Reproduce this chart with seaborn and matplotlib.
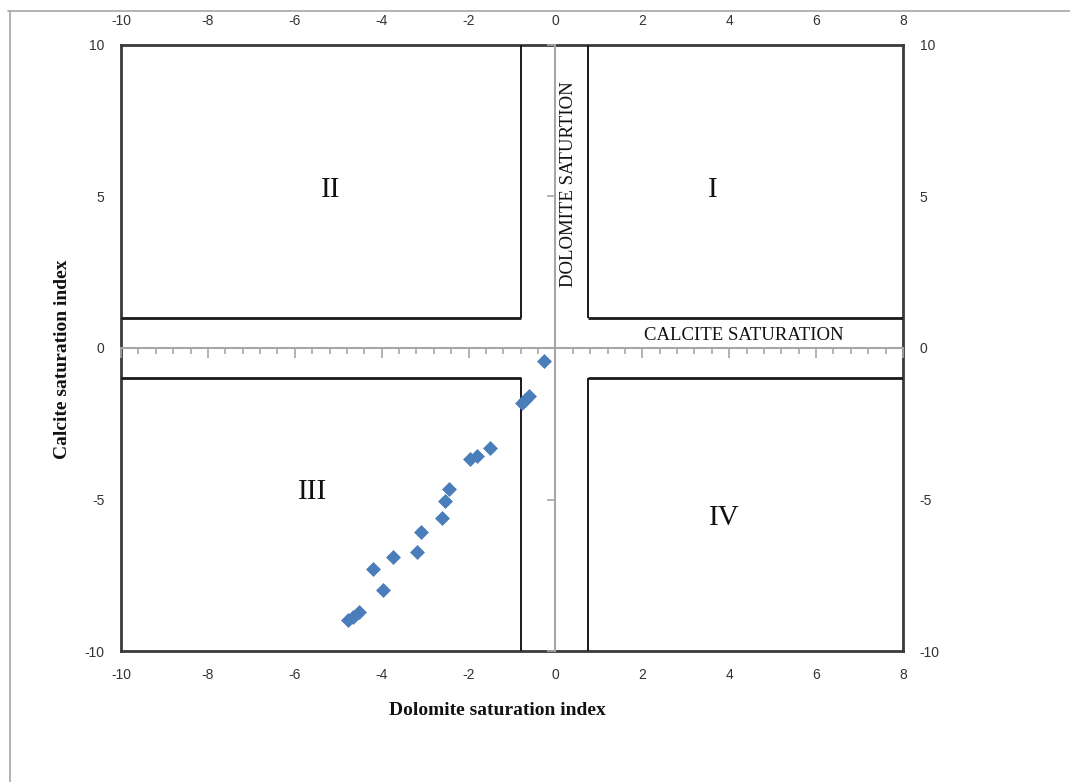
import matplotlib
matplotlib.use("Agg")
import matplotlib.pyplot as plt
from matplotlib.lines import Line2D
from matplotlib.ticker import MultipleLocator
import numpy as np
import pandas as pd
import seaborn as sns

# Saturation indices of the water samples
dolomite_si = [-0.26, -0.78, -0.70, -0.62, -1.51, -1.97, -1.81, -2.45, -2.54, -2.61,
               -3.09, -3.19, -3.74, -4.20, -3.97, -4.77, -4.66, -4.52]
calcite_si = [-0.43, -1.82, -1.70, -1.58, -3.30, -3.66, -3.56, -4.65, -5.05, -5.61,
              -6.07, -6.73, -6.90, -7.29, -7.99, -8.98, -8.88, -8.71]

# Saturation band limits
dolomite_band = [-0.8, 0.75]
calcite_band = [-1.0, 1.0]

x_ticks = [-10, -8, -6, -4, -2, 0, 2, 4, 6, 8]
y_ticks = [-10, -5, 0, 5, 10]

quadrant_names = ["I", "II", "III", "IV"]
quadrant_x = [3.63, -5.17, -5.58, 3.88]
quadrant_y = [5.2, 5.2, -4.75, -5.6]

df = pd.DataFrame({"dolomite": dolomite_si, "calcite": calcite_si})

sns.set_style("white")
plt.rcParams["font.family"] = ["Liberation Sans", "DejaVu Sans"]
plt.rcParams["axes.unicode_minus"] = False

fig = plt.figure(figsize=(10.7, 7.82), dpi=100)
pos = [0.1131, 0.1675, 0.7308, 0.7750]
ax = fig.add_axes(pos)
xlim, ylim = (-10, 8), (-10, 10)

# Frame and tick labels on all four sides
for side in ["top", "bottom", "left", "right"]:
    ax.spines[side].set_visible(True)
    ax.spines[side].set_color("#3a3a3a")
    ax.spines[side].set_linewidth(2.0)
ax.set_xlim(*xlim)
ax.set_ylim(*ylim)
ax.set_xticks(x_ticks)
ax.set_yticks(y_ticks)
ax.tick_params(axis="both", length=0, labelsize=10, colors="#333333",
               top=True, labeltop=True, right=True, labelright=True,
               bottom=True, labelbottom=True)
ax.tick_params(axis="x", pad=12.5)
ax.tick_params(axis="y", pad=12)

# Centered axes through the origin
ax0 = fig.add_axes(pos, facecolor="none")
ax0.set_xlim(*xlim)
ax0.set_ylim(*ylim)
for side in ["top", "right"]:
    ax0.spines[side].set_visible(False)
for side in ["left", "bottom"]:
    ax0.spines[side].set_position(("data", 0))
    ax0.spines[side].set_color("#a6a6a6")
    ax0.spines[side].set_linewidth(1.5)
ax0.xaxis.set_major_locator(MultipleLocator(2))
ax0.xaxis.set_minor_locator(MultipleLocator(0.4))
ax0.yaxis.set_major_locator(MultipleLocator(5))
ax0.tick_params(axis="both", which="both", direction="out", color="#a6a6a6",
                bottom=True, left=True, labelbottom=False, labelleft=False, width=1.2)
ax0.tick_params(axis="x", which="major", length=7)
ax0.tick_params(axis="x", which="minor", length=4)
ax0.tick_params(axis="y", which="major", length=6)
ax0.tick_params(axis="y", which="minor", length=0)
ax0.set_zorder(1)

# Saturation band boundaries
lc = "#1a1a1a"
ax0.vlines(dolomite_band, calcite_band[1], ylim[1], color=lc, lw=1.4, zorder=2)
ax0.vlines(dolomite_band, ylim[0], calcite_band[0], color=lc, lw=1.4, zorder=2)
ax0.hlines(calcite_band, xlim[0], dolomite_band[0], color=lc, lw=2.0, zorder=2)
ax0.hlines(calcite_band, dolomite_band[1], xlim[1], color=lc, lw=2.0, zorder=2)

sns.scatterplot(data=df, x="dolomite", y="calcite", ax=ax0, marker="D", s=50,
                color="#4a7ebb", edgecolor="#4a7ebb", linewidth=0.5, zorder=3)
ax0.set_xlabel("")
ax0.set_ylabel("")
ax0.set_xlim(*xlim)
ax0.set_ylim(*ylim)

serif = ["Liberation Serif", "DejaVu Serif"]
for name, qx, qy in zip(quadrant_names, quadrant_x, quadrant_y):
    ax0.text(qx, qy, name, fontsize=21, family=serif, ha="center", va="center",
             color="#111111")
ax0.text(4.34, 0.4, "CALCITE SATURATION", fontsize=13.5, family=serif,
         ha="center", va="center", color="#111111")
ax0.text(0.31, 5.4, "DOLOMITE SATURTION", fontsize=13.5, family=serif,
         ha="center", va="center", rotation=90, color="#111111")

fig.text(0.4645, 0.092, "Dolomite saturation index", fontsize=14, family=serif,
         fontweight="bold", ha="center", va="center", color="#111111")
fig.text(0.058, 0.54, "Calcite saturation index", fontsize=14, family=serif,
         fontweight="bold", ha="center", va="center", rotation=90, color="#111111")

# Outer page border
fig.add_artist(Line2D([0.0075, 1.0], [0.986, 0.986], transform=fig.transFigure,
                      color="#a6a6a6", lw=1.2))
fig.add_artist(Line2D([0.0095, 0.0095], [0.0, 0.986], transform=fig.transFigure,
                      color="#a6a6a6", lw=1.2))

fig.savefig("out.png", dpi=100, facecolor="white")
